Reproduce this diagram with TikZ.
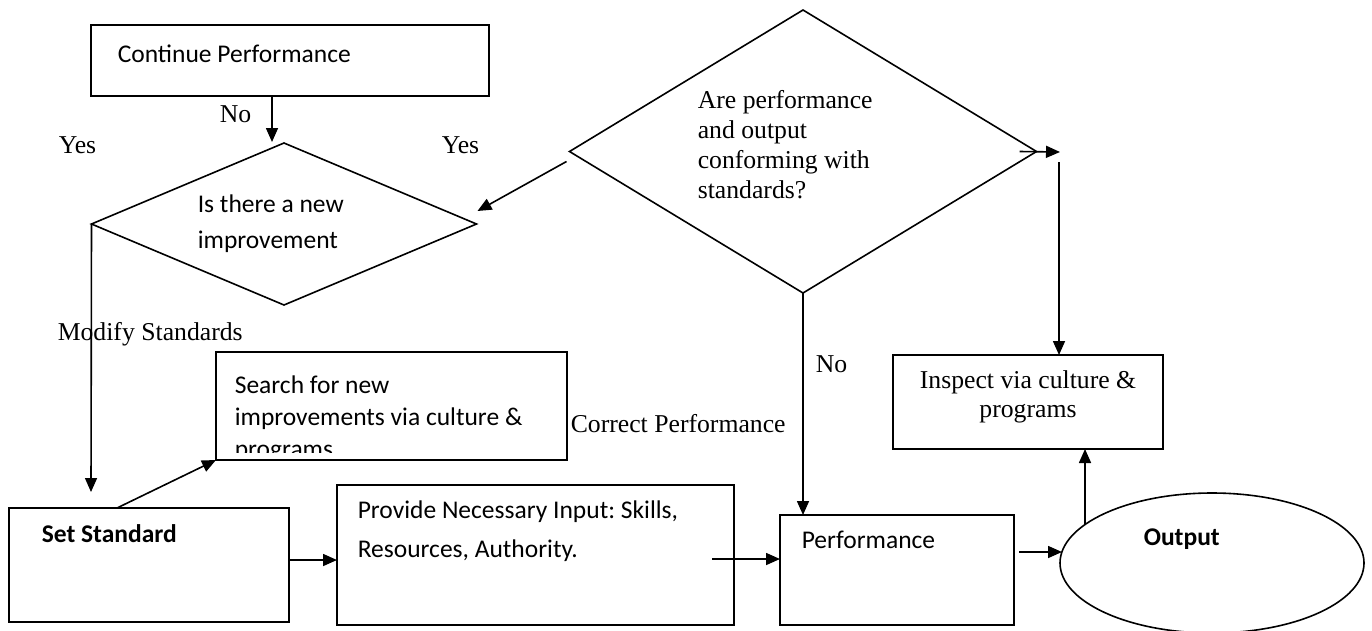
\documentclass[tikz,border=0pt]{standalone}
\usepackage{fontspec}
\setmainfont{Liberation Serif}
\newfontfamily\calfont{Carlito}
\usetikzlibrary{shapes.geometric,arrows.meta,calc}
\frenchspacing
\begin{document}
\begin{tikzpicture}[x=1pt,y=-1pt,
  line width=1.6pt,
  box/.style={draw, rectangle, line width=1.9pt, inner sep=0pt, outer sep=0pt},
  dia/.style={draw, diamond, line width=1.6pt, inner sep=0pt, outer sep=0pt},
  oval/.style={draw, ellipse, line width=1.6pt, inner sep=0pt, outer sep=0pt},
  tms/.style={font=\fontsize{25.7}{30}\selectfont, inner sep=0pt, anchor=base west},
  tmsc/.style={font=\fontsize{25.7}{30}\selectfont, inner sep=0pt, anchor=base},
  cal/.style={font=\calfont\fontsize{25.5}{30}\selectfont, inner sep=0pt, anchor=base west},
  calb/.style={font=\calfont\bfseries\fontsize{25.5}{30}\selectfont, inner sep=0pt, anchor=base west},
  arr/.style={-{Triangle[length=14pt,width=12pt]}},
]
\useasboundingbox[fill=white] (0,0) rectangle (1372,630);

% shapes
\node[box, minimum width=398pt, minimum height=71pt] (cont) at (290,60.5) {};
\node[dia, minimum width=385pt, minimum height=162pt] (d1) at (284,224) {};
\node[dia, minimum width=467pt, minimum height=283pt] (d2) at (803,151.5) {};
\node[box, minimum width=351pt, minimum height=108pt] (search) at (391.5,406) {};
\node[box, minimum width=270pt, minimum height=94pt] (insp) at (1028,402) {};
\node[box, minimum width=280pt, minimum height=114pt] (set) at (149,565) {};
\node[box, minimum width=397pt, minimum height=140pt] (prov) at (535.5,555) {};
\node[box, minimum width=234pt, minimum height=110pt] (perf) at (897,570) {};
\node[oval, minimum width=304pt, minimum height=140pt] (out) at (1212,563) {};

% texts
\node[cal] (tcont) at (117,62) {Continue Performance};
\node[cal] (td1a) at (197,212) {Is there a new};
\node[cal] (td1b) at (197,248) {improvement};
\node[tms] (td2a) at (697,108) {Are performance};
\node[tms] (td2b) at (697,138) {and output};
\node[tms] (td2c) at (697,168) {conforming with};
\node[tms] (td2d) at (697,198) {standards?};
\begin{scope}
  \clip (216,352) rectangle (567,452);
  \node[cal] (ts1) at (234,393) {Search for new};
  \node[cal] (ts2) at (234,425) {improvements via culture \&};
  \node[cal] (ts3) at (234,457) {programs};
\end{scope}
\node[tmsc] (ti1) at (1028,388) {Inspect via culture \&};
\node[tmsc] (ti2) at (1028,417) {programs};
\node[calb] (tset) at (41,542) {Set Standard};
\node[cal] (tp1) at (357,518) {Provide Necessary Input: Skills,};
\node[cal] (tp2) at (357,557) {Resources, Authority.};
\node[cal] (tperf) at (801,548) {Performance};
\node[calb] (tout) at (1143,545) {Output};

% labels
\node[tms] (lno1) at (219,122) {No};
\node[tms] (lyes1) at (58,153) {Yes};
\node[tms] (lyes2) at (441,153) {Yes};
\node[tms] (lmod) at (57,340) {Modify Standards};
\node[tms] (lcorr) at (570,432) {Correct Performance};
\node[tms] (lno2) at (815,372) {No};

% connectors
\coordinate (c1) at (272,142);
\draw[arr] (cont.south -| c1) -- (c1);
\draw[arr] ($(d2.west)+(-3,10)$) -- ($(d1.east)+(1,-13)$);
\coordinate (c2) at (1060,152);
\draw[arr] ($(d2.east)+(-17,0)$) -- (c2);
\coordinate (c3) at (1059,162);
\draw[arr] (c3) -- (insp.north -| c3);
\draw[arr] (d2.south) -- (d2.south |- perf.north);
\coordinate (c4) at (91,492);
\draw[arr] (d1.west) -- (c4);
\draw[arr] ($(set.north west)+(108,0)$) -- (search.south west);
\coordinate (c5) at (289,560);
\draw[arr] (c5) -- (prov.west |- c5);
\coordinate (c6) at (712,559);
\draw[arr] (c6) -- (perf.west |- c6);
\coordinate (c7) at (1019,552);
\draw[arr] (c7) -- ($(out.west)+(2,-11)$);
\coordinate (c8) at ($(out.center)+(-127,-38.5)$);
\draw[arr] (c8) -- (insp.south -| c8);
\end{tikzpicture}
\end{document}
